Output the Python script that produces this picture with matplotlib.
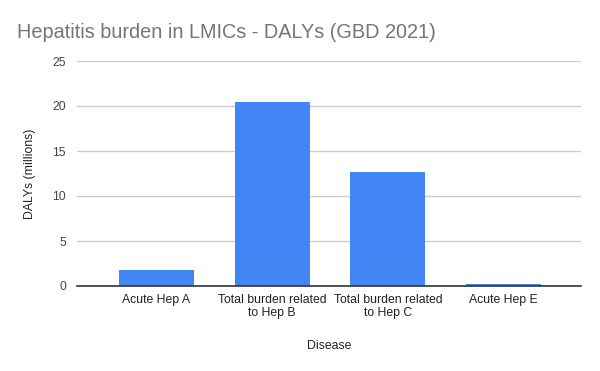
import matplotlib
matplotlib.use("Agg")
import matplotlib.pyplot as plt
import numpy as np

# data
categories = ["Acute Hep A", "Total burden related\nto Hep B",
              "Total burden related\nto Hep C", "Acute Hep E"]
dalys = [1.8, 20.45, 12.65, 0.2]
yticks = [0, 5, 10, 15, 20, 25]

plt.rcParams['font.family'] = ['Liberation Sans', 'DejaVu Sans']

fig = plt.figure(figsize=(6, 3.71), dpi=100)
ax = fig.add_axes([77/600, 1 - 286/371, 504/600, 225/371])

x = np.arange(len(categories))
ax.bar(x, dalys, width=0.65, color='#4285f4', zorder=3)

ax.set_xlim(-0.687, 3.669)
ax.set_ylim(0, 25)
ax.set_yticks(yticks)
ax.set_xticks(x)
ax.set_xticklabels(categories, fontsize=8.8, color='#222222', linespacing=1.05)
ax.tick_params(axis='y', labelsize=8.8, labelcolor='#444444', length=0, pad=8)
ax.tick_params(axis='x', length=0, pad=6)

ax.grid(axis='y', color='#cccccc', linewidth=1, zorder=0)
for s in ['top', 'right', 'left']:
    ax.spines[s].set_visible(False)
ax.spines['bottom'].set_color('#333333')
ax.spines['bottom'].set_linewidth(1.2)
ax.spines['bottom'].set_zorder(4)

ax.set_xlabel('Disease', fontsize=8.8, color='#222222', labelpad=15)
ax.set_ylabel('DALYs (millions)', fontsize=8.8, color='#222222', labelpad=12)

fig.text(17/600, 1 - 32/371, 'Hepatitis burden in LMICs - DALYs (GBD 2021)',
         fontsize=14.3, color='#757575', ha='left', va='center')

fig.savefig('out.png', dpi=100)
